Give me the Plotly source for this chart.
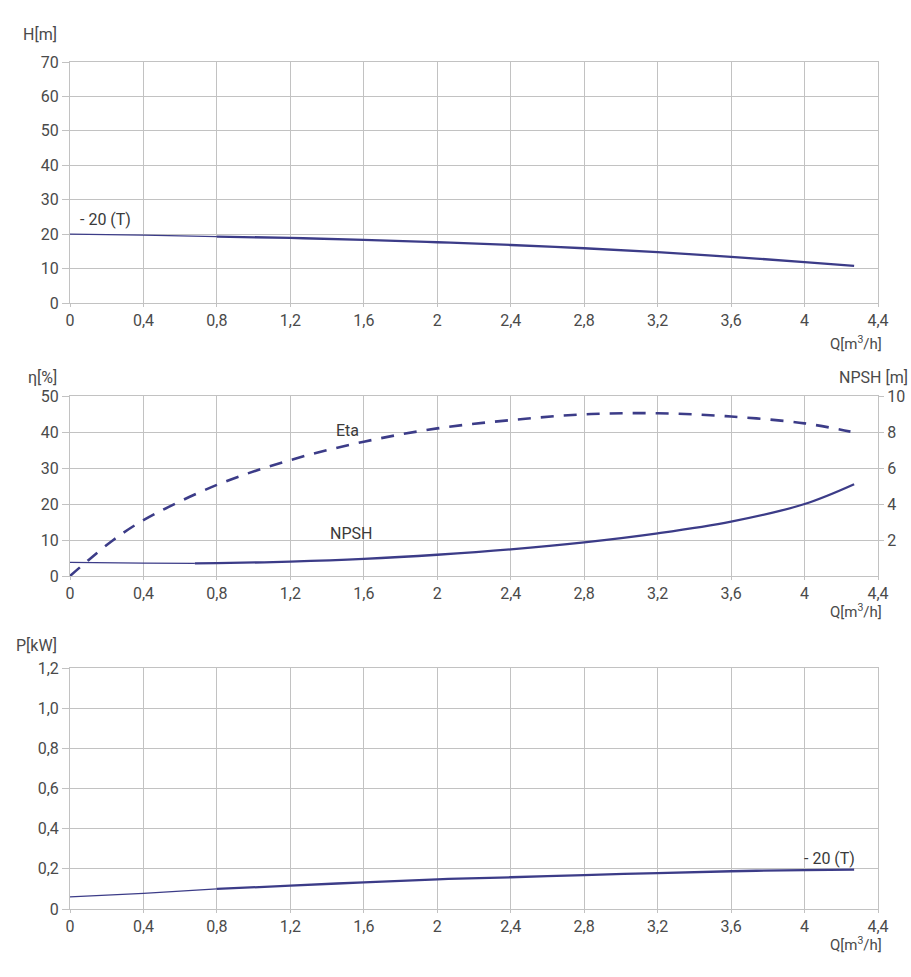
import plotly.graph_objects as go

# ---------------- data ----------------
Q_H = [0.0, 0.4, 0.8, 1.2, 1.6, 2.0, 2.4, 2.8, 3.2, 3.6, 4.0, 4.27]
H = [20.0, 19.7, 19.3, 18.9, 18.35, 17.65, 16.85, 15.9, 14.8, 13.4, 11.9, 10.8]

Q_ETA = [0.0, 0.1, 0.236, 0.4, 0.8, 1.2, 1.6, 2.0, 2.4, 2.8, 3.2, 3.6, 4.0, 4.25]
ETA = [0.0, 4.4, 10.0, 15.5, 25.3, 32.2, 37.3, 41.0, 43.3, 44.9, 45.2, 44.3, 42.4, 40.1]

Q_NPSH = [0.0, 0.4, 0.68, 0.8, 1.2, 1.6, 2.0, 2.4, 2.8, 3.2, 3.6, 4.0, 4.27]
NPSH = [0.76, 0.72, 0.70, 0.71, 0.80, 0.95, 1.18, 1.48, 1.87, 2.37, 3.02, 4.0, 5.1]

Q_P = [0.0, 0.4, 0.8, 1.2, 1.6, 2.0, 2.4, 2.8, 3.2, 3.6, 4.0, 4.27]
P = [0.060, 0.078, 0.100, 0.116, 0.133, 0.148, 0.158, 0.169, 0.179, 0.188, 0.194, 0.196]

X_TICKS = [0, 0.4, 0.8, 1.2, 1.6, 2.0, 2.4, 2.8, 3.2, 3.6, 4.0, 4.4]
X_TICKTEXT = ["0", "0,4", "0,8", "1,2", "1,6", "2", "2,4", "2,8", "3,2", "3,6", "4", "4,4"]
H_TICKS = [0, 10, 20, 30, 40, 50, 60, 70]
ETA_TICKS = [0, 10, 20, 30, 40, 50]
NPSH_TICKS = [2, 4, 6, 8, 10]
P_TICKS = [0, 0.2, 0.4, 0.6, 0.8, 1.0, 1.2]
P_TICKTEXT = ["0", "0,2", "0,4", "0,6", "0,8", "1,0", "1,2"]

# ---------------- style ----------------
W, Hgt = 911, 977
LINE = "#3c3c88"
GRID = "#c2c2c2"
TXT = "#4a4a4a"
FONT = "Roboto"
FS = 16


def px_x(p):
    return p / W


def px_y(p):
    return 1 - p / Hgt


XDOM = [px_x(70), px_x(878)]

fig = go.Figure()


def split(xs, ys, xcut):
    i = xs.index(xcut)
    return (xs[: i + 1], ys[: i + 1]), (xs[i:], ys[i:])


# top: H
(a, b) = split(Q_H, H, 0.8)
fig.add_trace(go.Scatter(x=a[0], y=a[1], mode="lines", xaxis="x", yaxis="y",
                         line=dict(color=LINE, width=1.3, shape="spline"), showlegend=False))
fig.add_trace(go.Scatter(x=b[0], y=b[1], mode="lines", xaxis="x", yaxis="y",
                         line=dict(color=LINE, width=2.3, shape="spline"), showlegend=False))

# middle: Eta (dashed) + NPSH
fig.add_trace(go.Scatter(x=Q_ETA, y=ETA, mode="lines", xaxis="x2", yaxis="y2",
                         line=dict(color=LINE, width=2.6, dash="13px,10px", shape="spline"),
                         showlegend=False))
(a, b) = split(Q_NPSH, NPSH, 0.68)
fig.add_trace(go.Scatter(x=a[0], y=a[1], mode="lines", xaxis="x2", yaxis="y3",
                         line=dict(color=LINE, width=1.3, shape="spline"), showlegend=False))
fig.add_trace(go.Scatter(x=b[0], y=b[1], mode="lines", xaxis="x2", yaxis="y3",
                         line=dict(color=LINE, width=2.3, shape="spline"), showlegend=False))

# bottom: P
(a, b) = split(Q_P, P, 0.8)
fig.add_trace(go.Scatter(x=a[0], y=a[1], mode="lines", xaxis="x3", yaxis="y4",
                         line=dict(color=LINE, width=1.3, shape="spline"), showlegend=False))
fig.add_trace(go.Scatter(x=b[0], y=b[1], mode="lines", xaxis="x3", yaxis="y4",
                         line=dict(color=LINE, width=2.3, shape="spline"), showlegend=False))

tickfont = dict(family=FONT, size=FS, color=TXT)


def xax(anchor):
    return dict(domain=XDOM, anchor=anchor, range=[0, 4.4], tickvals=X_TICKS,
                ticktext=X_TICKTEXT, showgrid=True, gridcolor=GRID, gridwidth=1,
                showline=True, linecolor=GRID, linewidth=1, mirror=True,
                ticks="outside", ticklen=3, tickcolor=GRID, zeroline=False,
                tickfont=tickfont, fixedrange=True, automargin=False)


def yax(anchor, dom, rng, vals, text=None):
    d = dict(domain=dom, anchor=anchor, range=rng, tickvals=vals, showgrid=True,
             gridcolor=GRID, gridwidth=1, showline=True, linecolor=GRID, linewidth=1,
             mirror=True, ticks="outside", ticklen=7, tickcolor=GRID, zeroline=False,
             tickfont=tickfont, fixedrange=True, automargin=False)
    if text is not None:
        d["ticktext"] = text
    return d


TOP = [px_y(303), px_y(62)]
MID = [px_y(576), px_y(396)]
BOT = [px_y(909), px_y(668)]

fig.update_layout(
    width=W, height=Hgt,
    margin=dict(l=0, r=0, t=0, b=0),
    paper_bgcolor="white", plot_bgcolor="white",
    font=dict(family=FONT, size=FS, color=TXT),
    xaxis=xax("y"),
    yaxis=yax("x", TOP, [0, 70], H_TICKS),
    xaxis2=xax("y2"),
    yaxis2=yax("x2", MID, [0, 50], ETA_TICKS),
    yaxis3=dict(overlaying="y2", side="right", anchor="x2", range=[0, 10],
                tickvals=NPSH_TICKS, showgrid=False, showline=False, zeroline=False,
                ticks="outside", ticklen=5, tickcolor=GRID, tickfont=tickfont,
                fixedrange=True, automargin=False),
    xaxis3=xax("y4"),
    yaxis4=yax("x3", BOT, [0, 1.2], P_TICKS, P_TICKTEXT),
)

ann = []


def label(text, xp, yp, xanchor="right", size=FS):
    ann.append(dict(text=text, x=px_x(xp), y=px_y(yp), xref="paper", yref="paper",
                    xanchor=xanchor, yanchor="middle", showarrow=False,
                    font=dict(family=FONT, size=size, color=TXT)))


label("H[m]", 59, 35)
label("η[%]", 59, 377)
label("NPSH [m]", 910, 377)
label("P[kW]", 59, 645)
label("Q[m<sup>3</sup>/h]", 884, 343, size=15)
label("Q[m<sup>3</sup>/h]", 884, 611, size=15)
label("Q[m<sup>3</sup>/h]", 884, 944, size=15)

AF = dict(family=FONT, size=FS, color="#3a3a3a")
ann.append(dict(text="- 20 (T)", x=0.044, y=24.2, xref="x", yref="y", xanchor="left",
                yanchor="middle", showarrow=False, font=AF))
ann.append(dict(text="- 20 (T)", x=3.987, y=0.249, xref="x3", yref="y4", xanchor="left",
                yanchor="middle", showarrow=False, font=AF))
ann.append(dict(text="Eta", x=1.509, y=40.3, xref="x2", yref="y2", xanchor="center",
                yanchor="middle", showarrow=False, font=AF))
ann.append(dict(text="NPSH", x=1.53, y=11.7, xref="x2", yref="y2", xanchor="center",
                yanchor="middle", showarrow=False, font=AF))

fig.update_layout(annotations=ann)

fig.write_html("out.html", config={"displayModeBar": False},
               post_script="document.body.style.margin='0';")
